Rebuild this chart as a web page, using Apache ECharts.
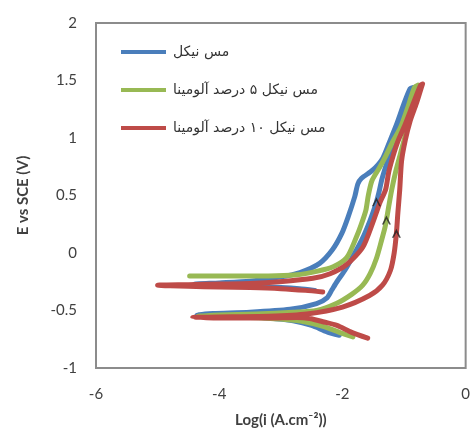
<!DOCTYPE html>
<html><head><meta charset="utf-8">
<script src="https://cdn.jsdelivr.net/npm/echarts@6/dist/echarts.min.js"></script>
<style>html,body{margin:0;padding:0;background:#fff}#c{width:473px;height:443px}</style>
</head><body><div id="c"></div>
<script>
// Series names (legend)
const seriesNames = ['مس نیکل', 'مس نیکل ۵ درصد آلومینا', 'مس نیکل ۱۰ درصد آلومینا'];
// Axis ticks
const xTicks = [-6, -4, -2, 0];
const yTicks = [-1, -0.5, 0, 0.5, 1, 1.5, 2];
// [log i, E] points, in scan order
const cuNi = [
 [-2.05,-0.715],[-2.25,-0.685],[-2.5,-0.63],[-2.8,-0.59],[-3.2,-0.565],[-3.7,-0.55],[-4.1,-0.54],[-4.36,-0.535],
 [-4.1,-0.525],[-3.5,-0.515],[-2.85,-0.49],[-2.42,-0.44],[-2.25,-0.39],[-2.17,-0.32],[-2.09,-0.25],[-1.96,-0.15],
 [-1.82,-0.02],[-1.68,0.12],[-1.56,0.27],[-1.48,0.39],[-1.45,0.44],[-1.41,0.52],[-1.36,0.64],[-1.28,0.78],
 [-1.18,0.94],[-1.08,1.1],[-0.98,1.25],[-0.9,1.38],[-0.85,1.44],
 [-0.9,1.43],[-1.0,1.3],[-1.12,1.12],[-1.24,0.96],[-1.35,0.82],[-1.51,0.72],[-1.69,0.65],[-1.75,0.6],[-1.8,0.49],
 [-1.91,0.31],[-2.01,0.17],[-2.16,0.03],[-2.37,-0.09],[-2.69,-0.17],[-3.02,-0.21],[-3.5,-0.245],[-4.0,-0.26],[-4.4,-0.27],
 [-4.0,-0.28],[-3.5,-0.29],[-3.0,-0.3],[-2.7,-0.31],[-2.45,-0.325]
];
const cuNi5 = [
 [-1.83,-0.73],[-2.05,-0.69],[-2.3,-0.64],[-2.6,-0.6],[-3.0,-0.575],[-3.5,-0.56],[-4.0,-0.555],[-4.35,-0.55],
 [-4.0,-0.54],[-3.4,-0.53],[-2.8,-0.515],[-2.42,-0.5],[-2.1,-0.44],[-1.85,-0.36],[-1.67,-0.28],[-1.55,-0.18],
 [-1.45,-0.05],[-1.37,0.1],[-1.31,0.22],[-1.286,0.287],[-1.25,0.4],[-1.2,0.55],[-1.13,0.72],[-1.04,0.9],
 [-0.95,1.08],[-0.87,1.25],[-0.8,1.4],[-0.77,1.46],
 [-0.83,1.44],[-0.93,1.28],[-1.05,1.1],[-1.2,0.95],[-1.3,0.84],[-1.39,0.75],[-1.52,0.63],[-1.58,0.5],[-1.62,0.37],
 [-1.7,0.24],[-1.78,0.13],[-1.93,-0.04],[-2.15,-0.12],[-2.42,-0.16],[-2.74,-0.19],[-3.2,-0.2],[-3.8,-0.2],[-4.48,-0.2]
];
const cuNi10 = [
 [-1.59,-0.74],[-1.85,-0.69],[-2.09,-0.63],[-2.3,-0.6],[-2.53,-0.57],[-2.74,-0.56],[-3.2,-0.565],[-3.8,-0.565],[-4.43,-0.56],
 [-3.8,-0.555],[-3.2,-0.55],[-2.58,-0.53],[-2.0,-0.47],[-1.56,-0.37],[-1.35,-0.28],[-1.22,-0.15],[-1.16,0.0],
 [-1.124,0.171],[-1.1,0.35],[-1.07,0.55],[-1.04,0.8],[-0.98,0.98],[-0.9,1.15],[-0.8,1.3],[-0.73,1.42],[-0.7,1.47],
 [-0.73,1.46],[-0.85,1.3],[-0.98,1.12],[-1.1,0.97],[-1.18,0.84],[-1.25,0.7],[-1.3,0.55],[-1.39,0.44],[-1.51,0.26],
 [-1.67,0.05],[-1.93,-0.1],[-2.2,-0.18],[-2.48,-0.22],[-3.02,-0.25],[-3.5,-0.265],[-4.0,-0.27],[-4.5,-0.275],[-5.0,-0.28],
 [-4.5,-0.29],[-4.0,-0.295],[-3.5,-0.3],[-3.0,-0.31],[-2.6,-0.325],[-2.32,-0.34]
];
// scan-direction arrows
const arrows = [[-1.448,0.446],[-1.286,0.287],[-1.124,0.171]];

const colors = ['#4a7ebb', '#98b954', '#be4b48'];
const chart = echarts.init(document.getElementById('c'), null, {renderer: 'canvas'});
const axisFont = 'Lato, "Open Sans", sans-serif';
function lineSeries(name, data, color) {
  return {
    name: name, type: 'line', data: data, showSymbol: false, symbol: 'none',
    smooth: 0.25, lineStyle: {color: color, width: 5, cap: 'round', join: 'round'},
    itemStyle: {color: color}, z: 2, animation: false
  };
}
chart.setOption({
  animation: false,
  grid: {left: 96, right: 7, top: 23, bottom: 75, show: true, borderColor: '#8c8c8c', borderWidth: 2, backgroundColor: 'transparent'},
  legend: {
    data: seriesNames, orient: 'vertical', left: 116, top: 40, itemGap: 24,
    itemWidth: 45, itemHeight: 4, icon: 'rect',
    textStyle: {fontFamily: '"DejaVu Sans", sans-serif', fontSize: 14, color: '#333', padding: [0,0,0,2]}
  },
  xAxis: {
    type: 'value', min: -6, max: 0, interval: 2,
    axisLine: {show: false}, axisTick: {show: false}, splitLine: {show: false},
    axisLabel: {fontFamily: axisFont, fontSize: 15, color: '#404040', margin: 19,
      customValues: xTicks},
    name: 'Log(i (A.cm⁻²))', nameLocation: 'middle', nameGap: 45,
    nameTextStyle: {fontFamily: axisFont, fontSize: 15, fontWeight: 'bold', color: '#404040'}
  },
  yAxis: {
    type: 'value', min: -1, max: 2, interval: 0.5,
    axisLine: {show: false}, axisTick: {show: false}, splitLine: {show: false},
    axisLabel: {fontFamily: axisFont, fontSize: 15, color: '#404040', margin: 19},
    name: 'E vs SCE (V)', nameLocation: 'middle', nameGap: 65,
    nameTextStyle: {fontFamily: axisFont, fontSize: 15, fontWeight: 'bold', color: '#404040'}
  },
  series: [
    lineSeries(seriesNames[0], cuNi, colors[0]),
    lineSeries(seriesNames[1], cuNi5, colors[1]),
    lineSeries(seriesNames[2], cuNi10, colors[2]),
    {
      name: 'arrows', type: 'scatter', data: arrows, z: 5,
      symbol: 'path://M0,10L5,0L10,10L8,10L5,4L2,10Z', symbolSize: [9, 9],
      itemStyle: {color: '#222'}, silent: true
    }
  ]
});
</script></body></html>
